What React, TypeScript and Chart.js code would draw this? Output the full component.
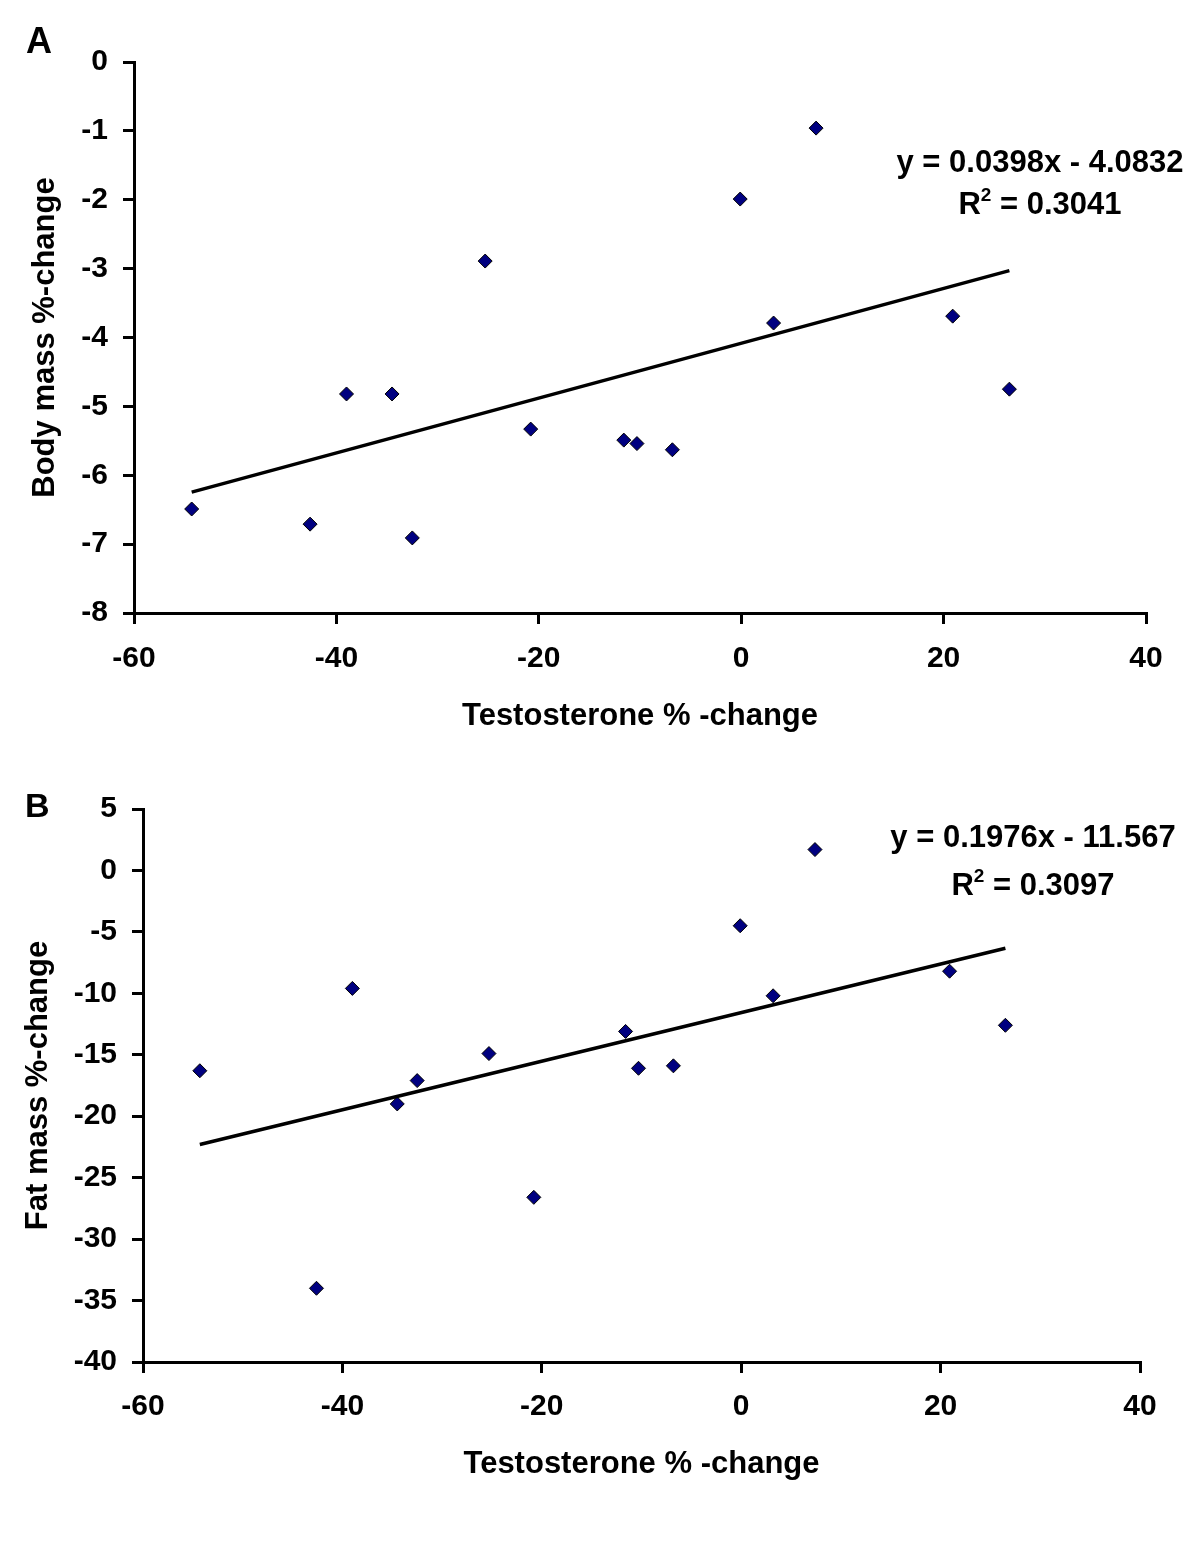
import React, { useEffect, useRef } from "react";
import { Chart, registerables } from "chart.js";

Chart.register(...registerables);

// Shared x values (Testosterone % -change)
const testosteroneChange = [-54.3, -42.6, -39.0, -34.5, -32.5, -25.3, -20.8, -11.6, -10.3, -6.8, -0.1, 3.2, 7.4, 20.9, 26.5];
// Panel A: Body mass % change
const bodyMassChange = [-6.49, -6.71, -4.82, -4.82, -6.91, -2.89, -5.33, -5.49, -5.54, -5.63, -1.99, -3.79, -0.96, -3.69, -4.75];
// Panel B: Fat mass % change
const fatMassChange = [-16.3, -34.0, -9.6, -19.0, -17.1, -14.9, -26.6, -13.1, -16.1, -15.9, -4.5, -10.2, 1.7, -8.2, -12.6];

// Regression coefficients from the equations shown
const trendA = { slope: 0.0398, intercept: -4.0832, r2: "0.3041", eq: "y = 0.0398x - 4.0832" };
const trendB = { slope: 0.1976, intercept: -11.567, r2: "0.3097", eq: "y = 0.1976x - 11.567" };

const xTicksRange = { min: -60, max: 40, step: 20 };
const yRangeA = { min: -8, max: 0, step: 1 };
const yRangeB = { min: -40, max: 5, step: 5 };

const FONT = "'Liberation Sans', Arial, sans-serif";

type PanelProps = {
  ys: number[];
  trend: { slope: number; intercept: number };
  yRange: { min: number; max: number; step: number };
  yTitle: string;
  height: number;
  padTop: number;
  padRight: number;
  yAxisWidth: number;
  xAxisHeight: number;
  xLabelPad: number;
  xTitlePadBottom: number;
  yTitlePadTop: number;
};

function Panel(p: PanelProps) {
  const ref = useRef<HTMLCanvasElement | null>(null);
  useEffect(() => {
    if (!ref.current) return;
    const xMin = Math.min(...testosteroneChange);
    const xMax = Math.max(...testosteroneChange);
    const trendPts = [xMin, xMax].map((x) => ({ x, y: p.trend.slope * x + p.trend.intercept }));
    const pts = testosteroneChange.map((x, i) => ({ x, y: p.ys[i] }));
    const tickFont = { family: FONT, size: 30, weight: "bold" as const };
    const titleFont = { family: FONT, size: 31, weight: "bold" as const };
    const chart = new Chart(ref.current, {
      type: "scatter",
      data: {
        datasets: [
          {
            type: "line",
            data: trendPts,
            borderColor: "#000",
            borderWidth: 3.5,
            pointRadius: 0,
            showLine: true,
            fill: false,
          } as any,
          {
            data: pts,
            pointStyle: "rectRot",
            pointRadius: 7,
            backgroundColor: "#000080",
            borderColor: "#000",
            borderWidth: 1,
          },
        ],
      },
      options: {
        responsive: false,
        animation: false,
        layout: { padding: { top: p.padTop, right: p.padRight, left: 0, bottom: 0 } },
        plugins: { legend: { display: false }, tooltip: { enabled: false } },
        scales: {
          x: {
            type: "linear",
            min: xTicksRange.min,
            max: xTicksRange.max,
            ticks: { stepSize: xTicksRange.step, color: "#000", font: tickFont, padding: p.xLabelPad },
            grid: { drawOnChartArea: false, drawTicks: true, tickLength: 11, lineWidth: 3, color: "#000" },
            border: { display: true, color: "#000", width: 3 },
            title: {
              display: true,
              text: "Testosterone % -change",
              color: "#000",
              font: titleFont,
              padding: { top: 0, bottom: p.xTitlePadBottom },
            },
            afterFit: (s: any) => {
              s.height = p.xAxisHeight;
            },
          },
          y: {
            type: "linear",
            min: p.yRange.min,
            max: p.yRange.max,
            ticks: { stepSize: p.yRange.step, color: "#000", font: tickFont, padding: 15 },
            grid: { drawOnChartArea: false, drawTicks: true, tickLength: 11, lineWidth: 3, color: "#000" },
            border: { display: true, color: "#000", width: 3 },
            title: {
              display: true,
              text: p.yTitle,
              color: "#000",
              font: titleFont,
              padding: { top: p.yTitlePadTop, bottom: 0 },
            },
            afterFit: (s: any) => {
              s.width = p.yAxisWidth;
            },
          },
        },
      },
    });
    return () => chart.destroy();
  }, []);
  return <canvas ref={ref} width={1200} height={p.height} style={{ display: "block", width: 1200, height: p.height }} />;
}

const textStyle: React.CSSProperties = {
  position: "absolute",
  fontFamily: FONT,
  fontWeight: "bold",
  color: "#000",
  whiteSpace: "nowrap",
  lineHeight: 1,
};

function Equation({ cx, y1, y2, eq, r2 }: { cx: number; y1: number; y2: number; eq: string; r2: string }) {
  return (
    <>
      <div style={{ ...textStyle, fontSize: 31, left: cx - 200, width: 400, textAlign: "center", top: y1 - 16 }}>{eq}</div>
      <div style={{ ...textStyle, fontSize: 31, left: cx - 200, width: 400, textAlign: "center", top: y2 - 16 }}>
        R<sup style={{ fontSize: 19, verticalAlign: "top", position: "relative", top: -3 }}>2</sup> = {r2}
      </div>
    </>
  );
}

export default function App() {
  return (
    <div style={{ position: "absolute", left: 0, top: 0, width: 1200, height: 1543, background: "#fff" }}>
      <div style={{ position: "absolute", left: 0, top: 0 }}>
        <Panel
          ys={bodyMassChange}
          trend={trendA}
          yRange={yRangeA}
          yTitle="Body mass %-change"
          height={770}
          padTop={62}
          padRight={54}
          yAxisWidth={134}
          xAxisHeight={157}
          xLabelPad={17}
          xTitlePadBottom={35}
          yTitlePadTop={27}
        />
      </div>
      <div style={{ position: "absolute", left: 0, top: 770 }}>
        <Panel
          ys={fatMassChange}
          trend={trendB}
          yRange={yRangeB}
          yTitle="Fat mass %-change"
          height={773}
          padTop={39}
          padRight={60}
          yAxisWidth={143}
          xAxisHeight={181}
          xLabelPad={16}
          xTitlePadBottom={60}
          yTitlePadTop={20}
        />
      </div>
      <div style={{ ...textStyle, fontSize: 36, left: 26, top: 23 }}>A</div>
      <div style={{ ...textStyle, fontSize: 34, left: 25, top: 788 }}>B</div>
      <Equation cx={1040} y1={162} y2={204} eq={trendA.eq} r2={trendA.r2} />
      <Equation cx={1033} y1={837} y2={885} eq={trendB.eq} r2={trendB.r2} />
    </div>
  );
}
